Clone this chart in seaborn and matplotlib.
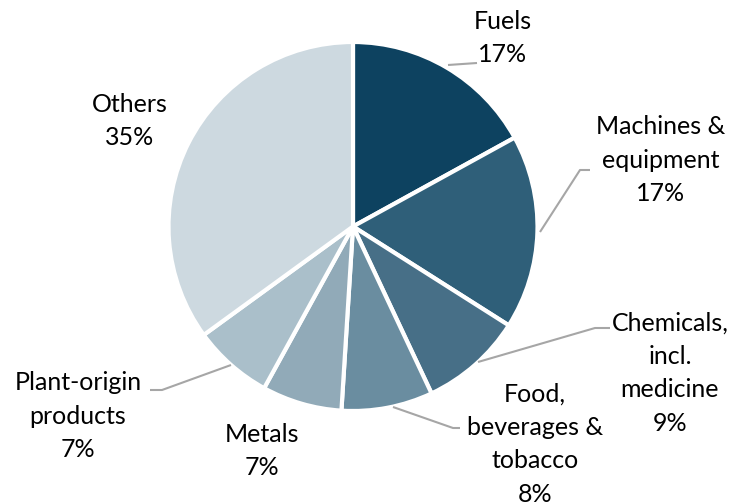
import matplotlib
matplotlib.use("Agg")
import matplotlib.pyplot as plt
import seaborn as sns

categories = ["Fuels", "Machines &\nequipment", "Chemicals,\nincl.\nmedicine",
              "Food,\nbeverages &\ntobacco", "Metals", "Plant-origin\nproducts", "Others"]
shares = [17, 17, 9, 8, 7, 7, 35]
colors = ["#0D4260", "#2F5F79", "#476F87", "#6A8DA0", "#91AAB8", "#AABFCA", "#CDD9E0"]

sns.set_theme(style="white")
plt.rcParams['font.family'] = ['Lato', 'DejaVu Sans']

W, H = 736, 503
fig = plt.figure(figsize=(W / 100, H / 100), dpi=100)
ax = fig.add_axes([0, 0, 1, 1])

cx, cy, r = 353, H - 226.5, 184.5
ax.pie(shares, colors=colors, startangle=90, counterclock=False,
       center=(cx, cy), radius=r, frame=True,
       wedgeprops=dict(edgecolor="white", linewidth=3))
ax.set_xlim(0, W)
ax.set_ylim(0, H)
ax.set_aspect("equal")
ax.axis("off")

# label positions (pixel coords, y from top)
label_pos = [(503, 38), (661, 160), (670, 373), (535, 444), (262, 451), (78, 416), (130, 121)]
leaders = [
    [(448, 65), (477, 63)],
    [(540, 232), (580, 170), (590, 170)],
    [(478, 362), (595, 328), (610, 328)],
    [(393, 407), (453, 428), (460, 428)],
    None,
    [(231, 365), (162, 390), (150, 390)],
    None,
]

for cat, val, (lx, ly), ld in zip(categories, shares, label_pos, leaders):
    ax.text(lx, H - ly, f"{cat}\n{val}%", ha="center", va="center",
            fontsize=18, color="#000000", linespacing=1.55)
    if ld:
        xs = [p[0] for p in ld]
        ys = [H - p[1] for p in ld]
        ax.plot(xs, ys, color="#A6A6A6", linewidth=1.5, solid_capstyle="butt")

fig.savefig("out.png", dpi=100)
